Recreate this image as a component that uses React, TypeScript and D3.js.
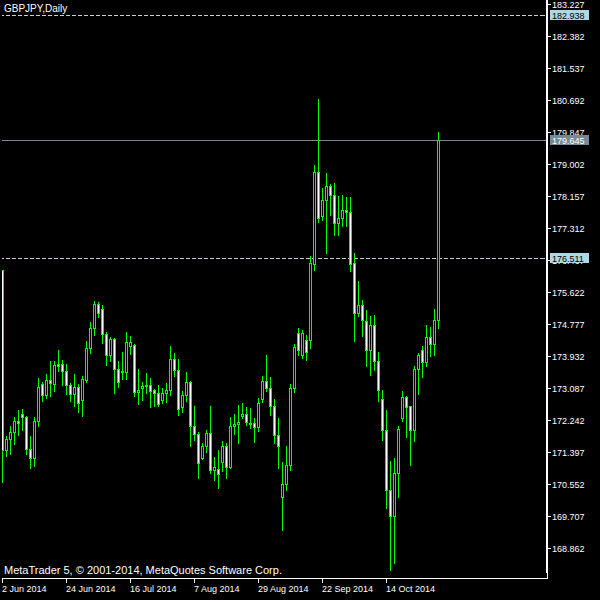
import React from "react";
import * as d3 from "d3";

const symbolLabel = "GBPJPY,Daily";
const copyright = "MetaTrader 5, © 2001-2014, MetaQuotes Software Corp.";

const openP = [176.2,171.440,171.731,171.916,172.217,172.402,172.331,171.477,171.240,172.207,
173.195,172.904,173.309,173.184,173.731,173.721,173.546,173.176,172.931,173.124,
172.762,173.291,174.135,174.664,175.309,175.185,174.524,173.950,174.384,173.591,
173.501,173.501,174.207,174.233,172.972,173.079,173.132,173.168,173.037,172.948,
172.780,172.957,173.026,173.855,173.573,172.577,172.893,173.256,172.085,171.874,
171.247,171.546,171.901,170.920,170.955,171.123,171.546,170.999,172.075,172.128,
172.357,172.410,172.165,172.173,172.049,172.798,173.274,173.097,172.621,171.856,
170.208,170.552,171.044,173.097,174.550,173.969,174.365,174.365,176.374,178.798,
177.624,178.065,178.436,178.190,177.450,177.582,177.801,177.740,176.382,175.071,
175.291,174.868,174.083,174.754,173.810,172.798,171.988,170.401,169.715,170.844,
172.296,172.851,172.603,171.969,173.591,174.101,173.766,174.437,174.252,174.876];

const highP = [176.2,171.829,172.093,172.331,172.516,172.542,172.358,171.829,172.331,173.361,
173.256,173.467,173.810,173.810,174.101,173.837,173.731,173.221,173.467,173.184,
173.414,174.320,174.822,175.397,175.370,175.272,174.577,174.426,174.400,173.810,
174.030,174.577,174.471,174.260,173.591,173.256,173.493,173.353,173.071,173.176,
173.097,173.221,174.207,174.014,173.863,173.018,173.520,173.282,172.621,171.927,
171.644,171.988,172.621,171.255,171.459,171.697,171.634,172.331,172.410,172.648,
172.701,172.595,172.550,172.305,172.833,173.414,173.969,173.388,172.806,172.279,
171.123,171.546,173.203,174.260,174.683,174.630,174.497,176.585,178.982,180.734,
178.383,178.771,178.488,178.507,178.153,178.198,178.137,178.137,176.657,175.925,
175.405,175.159,175.000,175.026,174.030,173.044,172.516,171.167,171.238,172.075,
173.018,172.886,172.621,173.678,174.014,174.207,174.762,174.701,175.185,179.863];

const lowP = [170.613,171.282,171.353,171.599,171.837,171.988,171.335,170.965,171.018,172.093,
172.735,172.814,172.867,172.999,173.528,173.176,172.939,172.735,172.603,172.444,
172.357,173.256,174.003,174.497,174.955,174.278,173.705,173.792,172.957,173.105,
173.327,173.327,173.987,172.886,172.674,172.780,172.957,172.587,172.621,172.621,
172.701,172.709,172.912,173.395,172.384,172.444,172.754,171.565,171.705,170.700,
171.221,171.388,170.851,170.647,170.436,170.885,170.700,170.973,171.882,171.625,
172.283,172.101,172.040,171.670,171.944,172.727,172.999,172.384,171.644,170.973,
169.344,170.402,170.930,172.992,173.969,173.890,173.837,174.135,176.215,177.466,
177.519,176.657,177.651,177.141,177.141,177.360,177.360,176.171,174.320,174.982,
174.471,173.678,173.441,173.573,172.735,171.723,169.918,168.287,168.465,170.198,
172.207,171.784,171.062,171.697,172.939,173.369,173.678,173.924,173.969,174.664];

const closeP = [171.459,171.742,171.927,172.217,172.154,172.312,171.477,171.229,172.217,173.116,
172.904,173.309,173.211,173.705,173.660,173.538,173.168,172.931,173.116,172.693,
173.335,174.146,174.675,175.317,175.071,174.516,173.950,174.392,173.591,173.237,
173.528,174.312,174.312,172.983,173.026,173.150,173.176,173.018,172.957,172.674,
172.957,173.037,173.855,173.573,172.534,172.912,173.248,172.075,171.864,171.107,
171.565,171.901,170.920,170.991,170.813,171.565,170.999,172.093,172.146,172.199,
172.402,172.191,172.146,172.049,172.693,173.282,173.089,172.603,171.837,171.546,
170.560,171.062,173.089,174.172,174.101,174.550,174.048,176.400,178.798,177.582,
178.065,178.417,178.198,177.450,177.582,177.783,177.740,176.374,175.071,175.291,
174.876,174.083,174.754,173.792,173.044,171.969,170.401,169.715,170.844,172.014,
172.851,172.577,171.969,173.591,173.969,173.766,174.437,174.252,174.894,179.645];

const priceTicks = [183.227,182.382,181.537,180.692,179.847,179.002,178.157,177.312,176.467,
175.622,174.777,173.932,173.087,172.242,171.397,170.552,169.707,168.862];

const dateTickIndex = [0,16,32,48,64,80,96];
const dateTickLabels = ["2 Jun 2014","24 Jun 2014","16 Jul 2014","7 Aug 2014","29 Aug 2014","22 Sep 2014","14 Oct 2014"];

const bidPrice = 179.645;
const levelPrices = [182.938, 176.511];

const W = 600, H = 600;
const AXIS_X = 546;
const AXIS_Y = 578;
const GREEN = "#00ff00";
const FONT = "'Liberation Sans', Arial, sans-serif";

export default function App() {
  const y = d3.scaleLinear().domain([168.862, 183.227]).range([547.8, 4.2]);
  const x = d3.scaleLinear().domain([0, 109]).range([2, 438]);
  const py = (p: number) => Math.round(y(p));
  const n = openP.length;

  const candles = [];
  for (let i = 0; i < n; i++) {
    const cx = Math.round(x(i));
    const o = openP[i], c = closeP[i], h = highP[i], l = lowP[i];
    const top = py(Math.max(o, c));
    const bot = py(Math.min(o, c));
    const bear = c < o;
    candles.push(
      <g key={i}>
        <rect x={cx} y={py(h)} width={1} height={py(l) - py(h) + 1} fill={GREEN} />
        <rect x={cx - 1} y={top} width={3} height={bot - top + 1} fill={GREEN} />
        {bot - top - 1 > 0 && (
          <rect x={cx} y={top + 1} width={1} height={bot - top - 1} fill={bear ? "#ffffff" : "#000000"} />
        )}
      </g>
    );
  }

  return (
    <svg width={W} height={H} style={{ position: "absolute", left: 0, top: 0, display: "block", background: "#000" }}
      shapeRendering="crispEdges">
      <defs>
        <clipPath id="plot">
          <rect x={2} y={0} width={AXIS_X - 2} height={AXIS_Y} />
        </clipPath>
      </defs>
      <rect x={0} y={0} width={W} height={H} fill="#000" />
      <g clipPath="url(#plot)">
        {levelPrices.map((p, i) => (
          <line key={i} x1={0} x2={AXIS_X} y1={py(p) + 0.5} y2={py(p) + 0.5} stroke="#c8d0dc" strokeWidth={1} strokeDasharray="4 2" />
        ))}
        <line x1={0} x2={AXIS_X} y1={py(bidPrice) + 0.5} y2={py(bidPrice) + 0.5} stroke="#778899" strokeWidth={1} />
        {candles}
      </g>
      <text x={4} y={12} fill="#fff" fontFamily={FONT} fontSize={10}>{symbolLabel}</text>
      <text x={4} y={574} fill="#fff" fontFamily={FONT} fontSize={11}>{copyright}</text>

      <rect x={AXIS_X} y={0} width={2} height={573} fill="#fff" />
      <rect x={AXIS_X + 1} y={573} width={1} height={6} fill="#fff" />
      <rect x={2} y={AXIS_Y} width={AXIS_X} height={1} fill="#fff" />

      {priceTicks.map((p, i) => (
        <g key={i}>
          <rect x={AXIS_X + 2} y={py(p)} width={3} height={1} fill="#fff" />
          <text x={552} y={py(p) + 3.5} fill="#fff" fontFamily={FONT} fontSize={9}>{p.toFixed(3)}</text>
        </g>
      ))}

      {dateTickIndex.map((idx, i) => {
        const tx = Math.round(x(idx));
        return (
          <g key={i}>
            <rect x={tx} y={AXIS_Y} width={1} height={5} fill="#fff" />
            <text x={tx} y={592} fill="#fff" fontFamily={FONT} fontSize={9}>{dateTickLabels[i]}</text>
          </g>
        );
      })}

      {levelPrices.map((p, i) => (
        <g key={i}>
          <rect x={542} y={py(p)} width={3} height={1} fill="#add8e6" />
          <rect x={550} y={py(p) - 5} width={39} height={10} fill="#add8e6" />
          <text x={552} y={py(p) + 3.5} fill="#000" fontFamily={FONT} fontSize={9}>{p.toFixed(3)}</text>
        </g>
      ))}
      <g>
        <rect x={550} y={py(bidPrice) - 5} width={39} height={10} fill="#778899" />
        <text x={552} y={py(bidPrice) + 3.5} fill="#fff" fontFamily={FONT} fontSize={9}>{bidPrice.toFixed(3)}</text>
      </g>
    </svg>
  );
}
